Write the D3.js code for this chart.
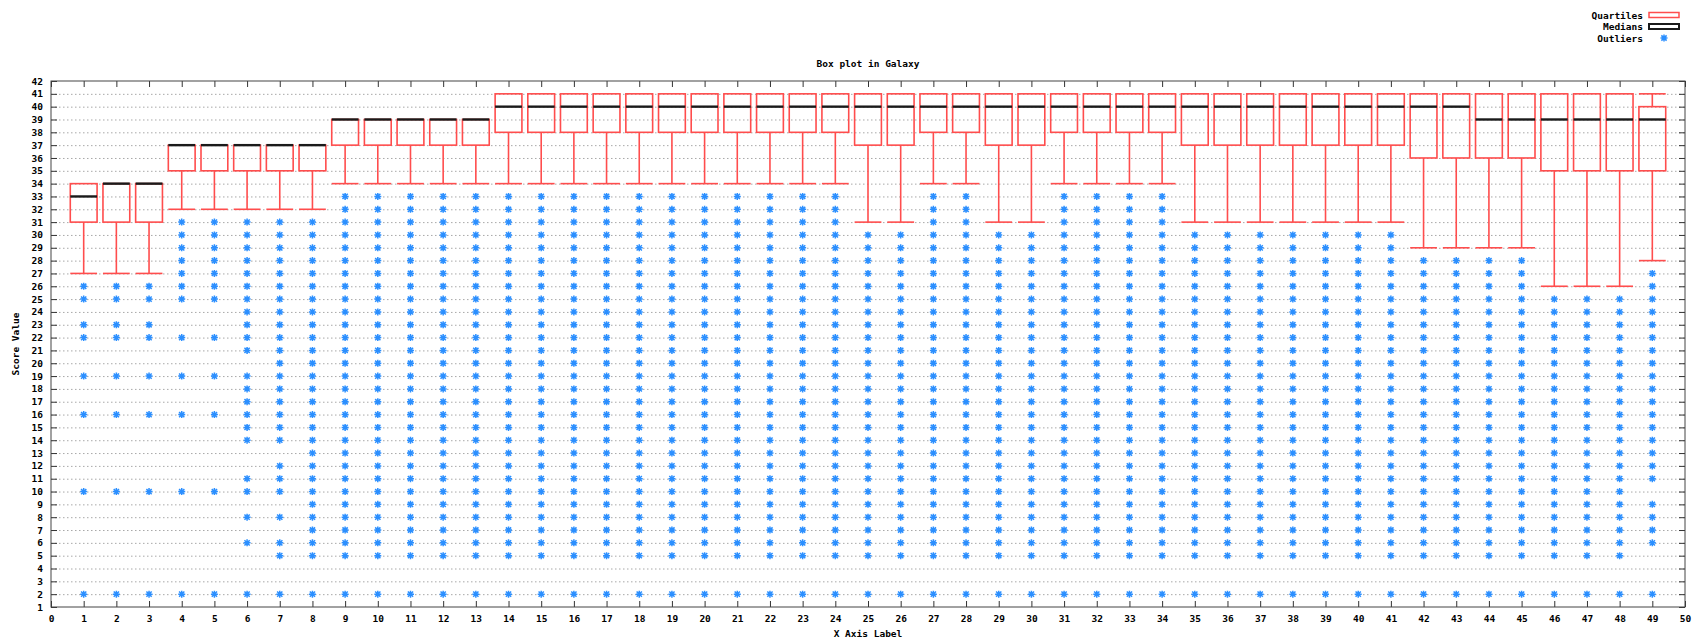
<!DOCTYPE html>
<html>
<head>
<meta charset="utf-8">
<script src="https://cdn.jsdelivr.net/npm/d3@7"></script>
<style>
  body { margin: 0; background: #fff; }
  text { font-family: "DejaVu Sans Mono", monospace; font-weight: bold; fill: #000; }
</style>
</head>
<body>
<svg id="chart"></svg>
<script>
// columns on the x axis
const columns = [1, 2, 3, 4, 5, 6, 7, 8, 9, 10, 11, 12, 13, 14, 15, 16, 17, 18, 19, 20,
  21, 22, 23, 24, 25, 26, 27, 28, 29, 30, 31, 32, 33, 34, 35, 36, 37, 38, 39, 40,
  41, 42, 43, 44, 45, 46, 47, 48, 49];

// box stats, one per column
const q1 = [31, 31, 31, 35, 35, 35, 35, 35, 37, 37, 37, 37, 37, 38, 38, 38, 38, 38, 38, 38,
  38, 38, 38, 38, 37, 37, 38, 38, 37, 37, 38, 38, 38, 38, 37, 37, 37, 37, 37, 37,
  37, 36, 36, 36, 36, 35, 35, 35, 35];
const q3 = [34, 34, 34, 37, 37, 37, 37, 37, 39, 39, 39, 39, 39, 41, 41, 41, 41, 41, 41, 41,
  41, 41, 41, 41, 41, 41, 41, 41, 41, 41, 41, 41, 41, 41, 41, 41, 41, 41, 41, 41,
  41, 41, 41, 41, 41, 41, 41, 41, 40];
const medians = [33, 34, 34, 37, 37, 37, 37, 37, 39, 39, 39, 39, 39, 40, 40, 40, 40, 40, 40, 40,
  40, 40, 40, 40, 40, 40, 40, 40, 40, 40, 40, 40, 40, 40, 40, 40, 40, 40, 40, 40,
  40, 40, 40, 39, 39, 39, 39, 39, 39];
const whiskerLow = [27, 27, 27, 32, 32, 32, 32, 32, 34, 34, 34, 34, 34, 34, 34, 34, 34, 34, 34, 34,
  34, 34, 34, 34, 31, 31, 34, 34, 31, 31, 34, 34, 34, 34, 31, 31, 31, 31, 31, 31,
  31, 29, 29, 29, 29, 26, 26, 26, 28];
const whiskerHigh = [34, 34, 34, 37, 37, 37, 37, 37, 39, 39, 39, 39, 39, 41, 41, 41, 41, 41, 41, 41,
  41, 41, 41, 41, 41, 41, 41, 41, 41, 41, 41, 41, 41, 41, 41, 41, 41, 41, 41, 41,
  41, 41, 41, 41, 41, 41, 41, 41, 41];

// outlier sets
const outA = [26, 25, 23, 22, 19, 16, 10, 2];
const outB = [31, 30, 29, 28, 27, 26, 25, 22, 19, 16, 10, 2];
const out6 = [31, 30, 29, 28, 27, 26, 25, 24, 23, 22, 21, 19, 18, 17, 16, 15, 14, 11, 10, 8, 6, 2];
const out7 = [31, 30, 29, 28, 27, 26, 25, 24, 23, 22, 21, 20, 19, 18, 17, 16, 15, 14, 12, 11, 10, 8, 6, 5, 2];
const out8 = [31, 30, 29, 28, 27, 26, 25, 24, 23, 22, 21, 20, 19, 18, 17, 16, 15, 14, 13, 12, 11, 10, 9, 8, 7, 6, 5, 2];
const out33 = [33, 32, 31, 30, 29, 28, 27, 26, 25, 24, 23, 22, 21, 20, 19, 18, 17, 16, 15, 14, 13, 12, 11, 10, 9, 8, 7, 6, 5, 2];
const out30 = [30, 29, 28, 27, 26, 25, 24, 23, 22, 21, 20, 19, 18, 17, 16, 15, 14, 13, 12, 11, 10, 9, 8, 7, 6, 5, 2];
const out28 = [28, 27, 26, 25, 24, 23, 22, 21, 20, 19, 18, 17, 16, 15, 14, 13, 12, 11, 10, 9, 8, 7, 6, 5, 2];
const out25 = [25, 24, 23, 22, 21, 20, 19, 18, 17, 16, 15, 14, 13, 12, 11, 10, 9, 8, 7, 6, 5, 2];
const out49 = [27, 26, 25, 24, 23, 22, 21, 20, 19, 18, 17, 16, 15, 14, 13, 12, 11, 9, 8, 7, 6, 2];

const outliers = [outA, outA, outA, outB, outB, out6, out7, out8,
  out33, out33, out33, out33, out33, out33, out33, out33, out33, out33, out33, out33,
  out33, out33, out33, out33, out30, out30, out33, out33, out30, out30,
  out33, out33, out33, out33, out30, out30, out30, out30, out30, out30,
  out30, out28, out28, out28, out28, out25, out25, out25, out49];

const xTicks = d3.range(0, 51);
const yTicks = d3.range(1, 43);

const W = 1696, H = 643;
const plotLeft = 51, plotRight = 1685, plotTop = 81, plotBottom = 607;
const red = "#ff4d4d", blue = "#2b8fff";

const svg = d3.select("#chart").attr("width", W).attr("height", H);

const x = d3.scaleLinear().domain([0, 50]).range([plotLeft, plotRight]);
const y = d3.scaleLinear().domain([1, 42]).range([plotBottom, plotTop]);

// dotted horizontal grid
svg.append("g")
  .selectAll("line")
  .data(yTicks.filter(v => v > 1 && v < 42))
  .join("line")
  .attr("x1", plotLeft).attr("x2", plotRight)
  .attr("y1", d => y(d) + 0.5).attr("y2", d => y(d) + 0.5)
  .attr("stroke", "#a8a8a8")
  .attr("stroke-width", 1)
  .attr("stroke-dasharray", "1.5,2.5");

// axes, ticks pointing inward
const styleAxis = g => {
  g.select(".domain").remove();
  g.selectAll(".tick line").attr("stroke", "#333");
  g.selectAll(".tick text").style("font-size", "9.5px").style("font-weight", "bold");
};

svg.append("g")
  .attr("transform", `translate(0,${plotBottom})`)
  .call(d3.axisBottom(x).tickValues(xTicks).tickFormat(d3.format("d")).tickSizeInner(-6).tickSizeOuter(0).tickPadding(8))
  .call(styleAxis);

svg.append("g")
  .attr("transform", `translate(0,${plotTop})`)
  .call(d3.axisTop(x).tickValues(xTicks).tickFormat("").tickSizeInner(-6).tickSizeOuter(0))
  .call(styleAxis);

svg.append("g")
  .attr("transform", `translate(${plotLeft},0)`)
  .call(d3.axisLeft(y).tickValues(yTicks).tickFormat(d3.format("d")).tickSizeInner(-6).tickSizeOuter(0).tickPadding(8))
  .call(styleAxis);

svg.append("g")
  .attr("transform", `translate(${plotRight},0)`)
  .call(d3.axisRight(y).tickValues(yTicks).tickFormat("").tickSizeInner(-6).tickSizeOuter(0))
  .call(styleAxis);

// border
svg.append("rect")
  .attr("x", plotLeft).attr("y", plotTop)
  .attr("width", plotRight - plotLeft).attr("height", plotBottom - plotTop)
  .attr("fill", "none")
  .attr("stroke", "#444")
  .attr("stroke-width", 1);

// boxes
const boxW = 0.82;
const stats = columns.map((c, i) => ({
  c, q1: q1[i], q3: q3[i], med: medians[i], lo: whiskerLow[i], hi: whiskerHigh[i], out: outliers[i]
}));

const star = (s) => `M${-s},0H${s}M0,${-s}V${s}M${-s * 0.75},${-s * 0.75}L${s * 0.75},${s * 0.75}M${-s * 0.75},${s * 0.75}L${s * 0.75},${-s * 0.75}`;

// outliers first, boxes on top
const outG = svg.append("g");
stats.forEach(d => {
  outG.selectAll(null)
    .data(d.out)
    .join("path")
    .attr("transform", v => `translate(${x(d.c)},${y(v)})`)
    .attr("d", star(3.5))
    .attr("stroke", blue)
    .attr("stroke-width", 1.5)
    .attr("fill", "none");
});

const boxG = svg.append("g")
  .selectAll("g")
  .data(stats)
  .join("g");

const half = (x(boxW) - x(0)) / 2;

boxG.append("rect")
  .attr("x", d => x(d.c) - half)
  .attr("y", d => y(d.q3))
  .attr("width", half * 2)
  .attr("height", d => y(d.q1) - y(d.q3))
  .attr("fill", "none")
  .attr("stroke", red)
  .attr("stroke-width", 1.6);

// lower whisker + cap
boxG.append("line")
  .attr("x1", d => x(d.c)).attr("x2", d => x(d.c))
  .attr("y1", d => y(d.q1)).attr("y2", d => y(d.lo))
  .attr("stroke", red).attr("stroke-width", 1.6);
boxG.append("line")
  .attr("x1", d => x(d.c) - half).attr("x2", d => x(d.c) + half)
  .attr("y1", d => y(d.lo)).attr("y2", d => y(d.lo))
  .attr("stroke", red).attr("stroke-width", 1.6);

// upper whisker + cap (only where it sticks out of the box)
const upper = boxG.filter(d => d.hi > d.q3);
upper.append("line")
  .attr("x1", d => x(d.c)).attr("x2", d => x(d.c))
  .attr("y1", d => y(d.q3)).attr("y2", d => y(d.hi))
  .attr("stroke", red).attr("stroke-width", 1.6);
upper.append("line")
  .attr("x1", d => x(d.c) - half).attr("x2", d => x(d.c) + half)
  .attr("y1", d => y(d.hi)).attr("y2", d => y(d.hi))
  .attr("stroke", red).attr("stroke-width", 1.6);

// medians
boxG.append("line")
  .attr("x1", d => x(d.c) - half).attr("x2", d => x(d.c) + half)
  .attr("y1", d => y(d.med)).attr("y2", d => y(d.med))
  .attr("stroke", "#1a1a1a").attr("stroke-width", 2.4);

// titles
svg.append("text")
  .attr("x", (plotLeft + plotRight) / 2).attr("y", 67)
  .attr("text-anchor", "middle")
  .style("font-size", "9.5px")
  .text("Box plot in Galaxy");

svg.append("text")
  .attr("x", (plotLeft + plotRight) / 2).attr("y", 637)
  .attr("text-anchor", "middle")
  .style("font-size", "9.5px")
  .text("X Axis Label");

svg.append("text")
  .attr("transform", `translate(19,${(plotTop + plotBottom) / 2}) rotate(-90)`)
  .attr("text-anchor", "middle")
  .style("font-size", "9.5px")
  .text("Score Value");

// legend
const legendItems = ["Quartiles", "Medians", "Outliers"];
const legend = svg.append("g");
legendItems.forEach((name, i) => {
  const ly = 15 + i * 11.5;
  legend.append("text")
    .attr("x", 1643).attr("y", ly + 3.5)
    .attr("text-anchor", "end")
    .style("font-size", "9.5px")
    .text(name);
  if (i < 2) {
    legend.append("rect")
      .attr("x", 1649).attr("y", ly - 2.5)
      .attr("width", 30).attr("height", 5)
      .attr("fill", "none")
      .attr("stroke", i === 0 ? red : "#1a1a1a")
      .attr("stroke-width", i === 0 ? 1.5 : 2);
  } else {
    legend.append("path")
      .attr("transform", `translate(1664,${ly})`)
      .attr("d", star(3.5))
      .attr("stroke", blue).attr("stroke-width", 1.5).attr("fill", "none");
  }
});
</script>
</body>
</html>
